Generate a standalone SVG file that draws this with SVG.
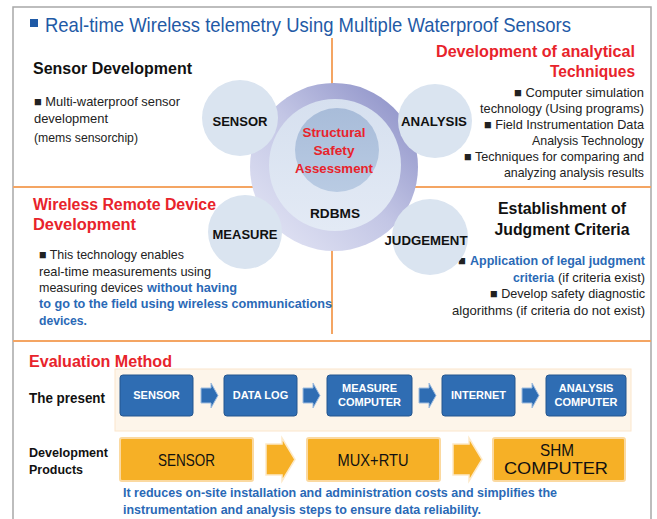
<svg xmlns="http://www.w3.org/2000/svg" width="657" height="519" viewBox="0 0 657 519">
<defs>
<style>
text{font-family:"Liberation Sans",Arial,sans-serif;}
.h{font-size:16px;font-weight:bold;fill:#111;}
.hr{font-size:16px;font-weight:bold;fill:#e8232b;}
.b{font-size:13px;fill:#222;}
.bl{font-size:13px;fill:#2a69b6;font-weight:bold;}
.cl{font-size:13.5px;font-weight:bold;fill:#111;text-anchor:middle;}
.cr{font-size:13.5px;font-weight:bold;fill:#e8232b;text-anchor:middle;}
.sc{fill:#dae4f0;}
.div{stroke:#f4a563;stroke-width:2;fill:none;}
.bb{fill:#2f6db3;stroke:#25568f;stroke-width:1;}
.bt{font-size:11px;font-weight:bold;fill:#fff;text-anchor:middle;}
.ba{fill:#2f6db3;stroke:#9fbde0;stroke-width:1;}
.ob{fill:#f6b026;stroke:#fbd9a0;stroke-width:2;}
.ot{font-size:17px;fill:#111;text-anchor:middle;}
.oa{fill:#f6b026;stroke:#fde9c8;stroke-width:1.5;}
</style>
<linearGradient id="ring" x1="0" y1="1" x2="1" y2="0">
<stop offset="0" stop-color="#e6e8f6"/>
<stop offset="0.5" stop-color="#c3c6e5"/>
<stop offset="1" stop-color="#8589c3"/>
</linearGradient>
<linearGradient id="inner" x1="0" y1="0" x2="0" y2="1">
<stop offset="0" stop-color="#d6e0ef"/>
<stop offset="1" stop-color="#e3eaf5"/>
</linearGradient>
<linearGradient id="core" x1="0" y1="0" x2="0" y2="1">
<stop offset="0" stop-color="#a8bcd9"/>
<stop offset="1" stop-color="#b9cbe3"/>
</linearGradient>
</defs>
<rect width="657" height="519" fill="#fff"/>
<path d="M13,519 V7 H651 V519" fill="none" stroke="#a8a8a8" stroke-width="1.5"/>
<g id="title">
<rect x="30" y="19" width="8" height="8" fill="#1f5aa6"/>
<text x="45" y="32" font-size="21" fill="#1f5aa6" textLength="526" lengthAdjust="spacingAndGlyphs">Real-time Wireless telemetry Using Multiple Waterproof Sensors</text>
</g>
<g id="connectors">
<line class="div" x1="332" y1="38" x2="332" y2="334"/>
<line class="div" x1="13" y1="187" x2="651" y2="187"/>
<line class="div" x1="13" y1="341" x2="651" y2="341"/>
</g>
<g id="sensor-dev">
<text class="h" x="33" y="74" textLength="159" lengthAdjust="spacingAndGlyphs">Sensor Development</text>
<text class="b" x="34" y="106" textLength="146" lengthAdjust="spacingAndGlyphs">■ Multi-waterproof sensor</text>
<text class="b" x="34" y="123" textLength="74" lengthAdjust="spacingAndGlyphs">development</text>
<text class="b" x="34" y="142" textLength="104" lengthAdjust="spacingAndGlyphs">(mems sensorchip)</text>
</g>
<g id="analysis-dev">
<text class="hr" x="635" y="57" text-anchor="end" textLength="199" lengthAdjust="spacingAndGlyphs">Development of analytical</text>
<text class="hr" x="635" y="77" text-anchor="end" textLength="85" lengthAdjust="spacingAndGlyphs">Techniques</text>
<text class="b" x="644" y="97" text-anchor="end" textLength="130" lengthAdjust="spacingAndGlyphs">■ Computer simulation</text>
<text class="b" x="644" y="113" text-anchor="end" textLength="164" lengthAdjust="spacingAndGlyphs">technology (Using programs)</text>
<text class="b" x="644" y="129" text-anchor="end" textLength="160" lengthAdjust="spacingAndGlyphs">■ Field Instrumentation Data</text>
<text class="b" x="644" y="145" text-anchor="end" textLength="112" lengthAdjust="spacingAndGlyphs">Analysis Technology</text>
<text class="b" x="644" y="161" text-anchor="end" textLength="180" lengthAdjust="spacingAndGlyphs">■ Techniques for  comparing and</text>
<text class="b" x="644" y="177" text-anchor="end" textLength="140" lengthAdjust="spacingAndGlyphs">analyzing analysis results</text>
</g>
<g id="wireless-dev">
<text class="hr" x="33" y="210" textLength="183" lengthAdjust="spacingAndGlyphs">Wireless Remote Device</text>
<text class="hr" x="33" y="230" textLength="103" lengthAdjust="spacingAndGlyphs">Development</text>
<text class="b" x="39" y="259" textLength="145" lengthAdjust="spacingAndGlyphs">■ This technology enables</text>
<text class="b" x="39" y="276" textLength="172" lengthAdjust="spacingAndGlyphs">real-time measurements using</text>
<text class="b" x="39" y="292" textLength="104" lengthAdjust="spacingAndGlyphs">measuring devices</text>
<text class="bl" x="147" y="292" textLength="90" lengthAdjust="spacingAndGlyphs">without having</text>
<text class="bl" x="39" y="308" textLength="293" lengthAdjust="spacingAndGlyphs">to go to the field using wireless communications</text>
<text class="bl" x="39" y="325" textLength="48" lengthAdjust="spacingAndGlyphs">devices.</text>
</g>
<g id="judgment-dev">
<text class="h" x="562" y="214" text-anchor="middle" textLength="128" lengthAdjust="spacingAndGlyphs">Establishment of</text>
<text class="h" x="562" y="235" text-anchor="middle" textLength="135" lengthAdjust="spacingAndGlyphs">Judgment Criteria</text>
<text class="b" x="458" y="265">■</text>
<text class="bl" x="645" y="265" text-anchor="end" textLength="175" lengthAdjust="spacingAndGlyphs">Application of legal judgment</text>
<text class="bl" x="513" y="282" textLength="41" lengthAdjust="spacingAndGlyphs">criteria</text>
<text class="b" x="645" y="282" text-anchor="end" textLength="87" lengthAdjust="spacingAndGlyphs">(if criteria exist)</text>
<text class="b" x="645" y="298" text-anchor="end" textLength="155" lengthAdjust="spacingAndGlyphs">■ Develop safety diagnostic</text>
<text class="b" x="645" y="315" text-anchor="end" textLength="193" lengthAdjust="spacingAndGlyphs">algorithms (if criteria do not exist)</text>
</g>
<g id="core-node">
<circle cx="334" cy="167" r="84" fill="url(#ring)"/>
<circle cx="335" cy="165" r="66" fill="url(#inner)"/>
<circle cx="337" cy="150" r="42" fill="url(#core)"/>
<text class="cr" x="334" y="137" textLength="63" lengthAdjust="spacingAndGlyphs">Structural</text>
<text class="cr" x="334" y="155" textLength="41" lengthAdjust="spacingAndGlyphs">Safety</text>
<text class="cr" x="334" y="173" textLength="78" lengthAdjust="spacingAndGlyphs">Assessment</text>
<text class="cl" x="335" y="218" textLength="50" lengthAdjust="spacingAndGlyphs">RDBMS</text>
</g>
<g id="sensor-node">
<circle class="sc" cx="240" cy="118" r="38"/>
<text class="cl" x="240" y="126" textLength="55" lengthAdjust="spacingAndGlyphs">SENSOR</text>
</g>
<g id="analysis-node">
<circle class="sc" cx="435" cy="121" r="37"/>
<text class="cl" x="434" y="126" textLength="66" lengthAdjust="spacingAndGlyphs">ANALYSIS</text>
</g>
<g id="measure-node">
<circle class="sc" cx="245" cy="232" r="37"/>
<text class="cl" x="245" y="239" textLength="65" lengthAdjust="spacingAndGlyphs">MEASURE</text>
</g>
<g id="judgement-node">
<circle class="sc" cx="430" cy="237" r="38"/>
<text class="cl" x="426" y="245" textLength="83" lengthAdjust="spacingAndGlyphs">JUDGEMENT</text>
</g>
<g id="evaluation">
<text class="hr" x="29" y="367" textLength="143" lengthAdjust="spacingAndGlyphs">Evaluation Method</text>
<rect x="115" y="369" width="516" height="62" fill="#fdf5ea" stroke="#fbe6cc" stroke-width="1"/>
<text x="29" y="403" font-size="14" font-weight="bold" fill="#111" textLength="76" lengthAdjust="spacingAndGlyphs">The present</text>
<text x="29" y="457" font-size="13" font-weight="bold" fill="#111" textLength="79" lengthAdjust="spacingAndGlyphs">Development</text>
<text x="29" y="474" font-size="13" font-weight="bold" fill="#111" textLength="54" lengthAdjust="spacingAndGlyphs">Products</text>
</g>
<g id="p-sensor"><rect class="bb" x="120" y="375" width="73" height="41" rx="3"/><text class="bt" x="156.5" y="399">SENSOR</text></g>
<g id="p-datalog"><rect class="bb" x="224" y="375" width="73" height="41" rx="3"/><text class="bt" x="260.5" y="399">DATA LOG</text></g>
<g id="p-measure"><rect class="bb" x="327" y="375" width="85" height="41" rx="3"/><text class="bt" x="369.5" y="392">MEASURE</text><text class="bt" x="369.5" y="406">COMPUTER</text></g>
<g id="p-internet"><rect class="bb" x="442" y="375" width="73" height="41" rx="3"/><text class="bt" x="478.5" y="399">INTERNET</text></g>
<g id="p-analysis"><rect class="bb" x="546" y="375" width="80" height="41" rx="3"/><text class="bt" x="586" y="392">ANALYSIS</text><text class="bt" x="586" y="406">COMPUTER</text></g>
<g id="d-sensor"><rect class="ob" x="120" y="438" width="133" height="43" rx="2"/><text class="ot" x="186.5" y="466" textLength="57" lengthAdjust="spacingAndGlyphs">SENSOR</text></g>
<g id="d-mux"><rect class="ob" x="307" y="438" width="133" height="43" rx="2"/><text class="ot" x="373" y="466" textLength="71" lengthAdjust="spacingAndGlyphs">MUX+RTU</text></g>
<g id="d-shm"><rect class="ob" x="493" y="438" width="132" height="43" rx="2"/><text class="ot" x="557" y="456" textLength="34" lengthAdjust="spacingAndGlyphs">SHM</text><text class="ot" x="556" y="474" textLength="104" lengthAdjust="spacingAndGlyphs">COMPUTER</text></g>
<g id="flow-arrows">
<path class="ba" d="M201,388 H211 V383 L218,395.5 L211,408 V403 H201 Z"/>
<path class="ba" d="M303,388 H313 V383 L320,395.5 L313,408 V403 H303 Z"/>
<path class="ba" d="M419,388 H429 V383 L436,395.5 L429,408 V403 H419 Z"/>
<path class="ba" d="M522,388 H532 V383 L539,395.5 L532,408 V403 H522 Z"/>
<path class="oa" d="M266,444 H282 V438 L295,459.5 L282,481 V475 H266 Z"/>
<path class="oa" d="M453,444 H469 V438 L482,459.5 L469,481 V475 H453 Z"/>
</g>
<g id="note">
<text class="bl" x="123" y="497" font-size="12.5" textLength="434" lengthAdjust="spacingAndGlyphs">It reduces on-site installation and administration costs and simplifies the</text>
<text class="bl" x="123" y="514" font-size="12.5" textLength="358" lengthAdjust="spacingAndGlyphs">instrumentation and analysis steps to ensure data reliability.</text>
</g>
</svg>
